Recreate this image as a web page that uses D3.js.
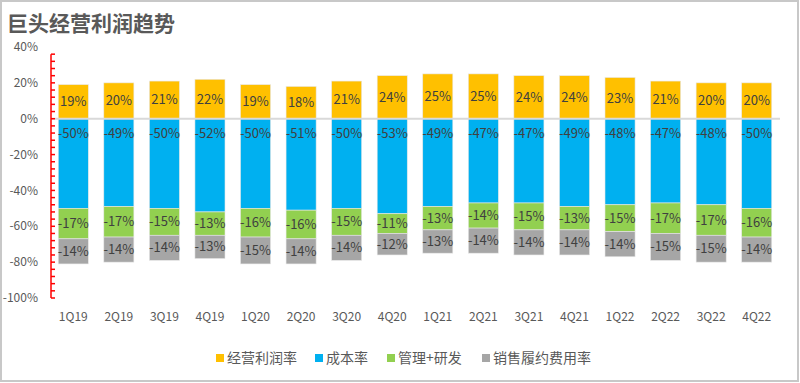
<!DOCTYPE html>
<html><head><meta charset="utf-8">
<script src="https://cdn.jsdelivr.net/npm/d3@7"></script>
<style>body{margin:0;background:#fff}svg{display:block}</style>
</head><body><svg id="c" width="800" height="383"></svg>
<script>
const categories = ["1Q19","2Q19","3Q19","4Q19","1Q20","2Q20","3Q20","4Q20","1Q21","2Q21","3Q21","4Q21","1Q22","2Q22","3Q22","4Q22"];
const opMargin = [19,20,21,22,19,18,21,24,25,25,24,24,23,21,20,20];
const costRate = [-50,-49,-50,-52,-50,-51,-50,-53,-49,-47,-47,-49,-48,-47,-48,-50];
const mgmtRD = [-17,-17,-15,-13,-16,-16,-15,-11,-13,-14,-15,-13,-15,-17,-17,-16];
const salesFulfil = [-14,-14,-14,-13,-15,-14,-14,-12,-13,-14,-14,-14,-14,-15,-15,-14];
const seriesNames = ["经营利润率","成本率","管理+研发","销售履约费用率"];
const yTicks = [40,20,0,-20,-40,-60,-80,-100];
const colors = ["#FFC000","#00B0F0","#92D050","#A6A6A6"];
const font = "'Noto Sans CJK SC','Noto Sans',sans-serif";

const svg = d3.select("#c");
svg.append("rect").attr("x",1).attr("y",1).attr("width",797).attr("height",380)
  .attr("fill","#fff").attr("stroke","#c8c8c8").attr("stroke-width",2);

svg.append("text").attr("x",7).attr("y",31).text("巨头经营利润趋势")
  .attr("font-family",font).attr("font-size",21).attr("font-weight","bold").attr("fill","#595959");

const x = d3.scaleBand().domain(categories).range([50.5,779.5]).paddingInner(0.34).paddingOuter(0.17);
const y = d3.scaleLinear().domain([-100,40]).range([298,47]);

// y labels
svg.append("g").selectAll("text").data(yTicks).join("text")
  .attr("x",38).attr("y",d=>y(d)).attr("dy","0.35em").attr("text-anchor","end")
  .attr("font-family",font).attr("font-size",12).attr("fill","#595959")
  .text(d=>d+"%");

// stacks
const series = [opMargin,costRate,mgmtRD,salesFulfil];
const g = svg.append("g");
categories.forEach((c,i)=>{
  let posBase = 0, negBase = 0;
  series.forEach((s,k)=>{
    const v = s[i];
    let y0,y1;
    if(v>=0){y0=posBase;y1=posBase+v;posBase=y1;} else {y0=negBase;y1=negBase+v;negBase=y1;}
    const top = y(Math.max(y0,y1)), bot = y(Math.min(y0,y1));
    g.append("rect").attr("x",x(c)).attr("width",x.bandwidth()).attr("y",top).attr("height",bot-top)
      .attr("fill",colors[k]).attr("stroke","#e8e8e8").attr("stroke-width",0.6);
    const ly = k===1 ? top+15 : (top+bot)/2;
    g.append("text").attr("x",x(c)+x.bandwidth()/2).attr("y",ly).attr("dy","0.35em")
      .attr("text-anchor","middle").attr("font-family",font).attr("font-size",13).attr("fill","#404040")
      .text(v+"%");
  });
});

// zero line
svg.append("line").attr("x1",51).attr("x2",780).attr("y1",y(0)).attr("y2",y(0))
  .attr("stroke","#d9d9d9").attr("stroke-width",2);

// red axis
const ax = svg.append("g").attr("stroke","#FF0000").attr("stroke-width",1.5);
ax.append("line").attr("x1",51).attr("x2",51).attr("y1",y(36)).attr("y2",y(-100));
ax.selectAll("line.t").data(d3.range(-100,37,4)).join("line").attr("class","t")
  .attr("x1",51).attr("x2",55).attr("y1",d=>y(d)).attr("y2",d=>y(d));

// x labels
svg.append("g").selectAll("text").data(categories).join("text")
  .attr("x",d=>x(d)+x.bandwidth()/2).attr("y",317).attr("dy","0.35em").attr("text-anchor","middle")
  .attr("font-family",font).attr("font-size",12).attr("fill","#595959").text(d=>d);

// legend
const lx = [216,315,387,482];
const leg = svg.append("g");
seriesNames.forEach((n,k)=>{
  leg.append("rect").attr("x",lx[k]).attr("y",354).attr("width",8).attr("height",8).attr("fill",colors[k]);
  leg.append("text").attr("x",lx[k]+11).attr("y",358).attr("dy","0.35em")
    .attr("font-family",font).attr("font-size",14).attr("fill","#595959").text(n);
});
</script></body></html>
